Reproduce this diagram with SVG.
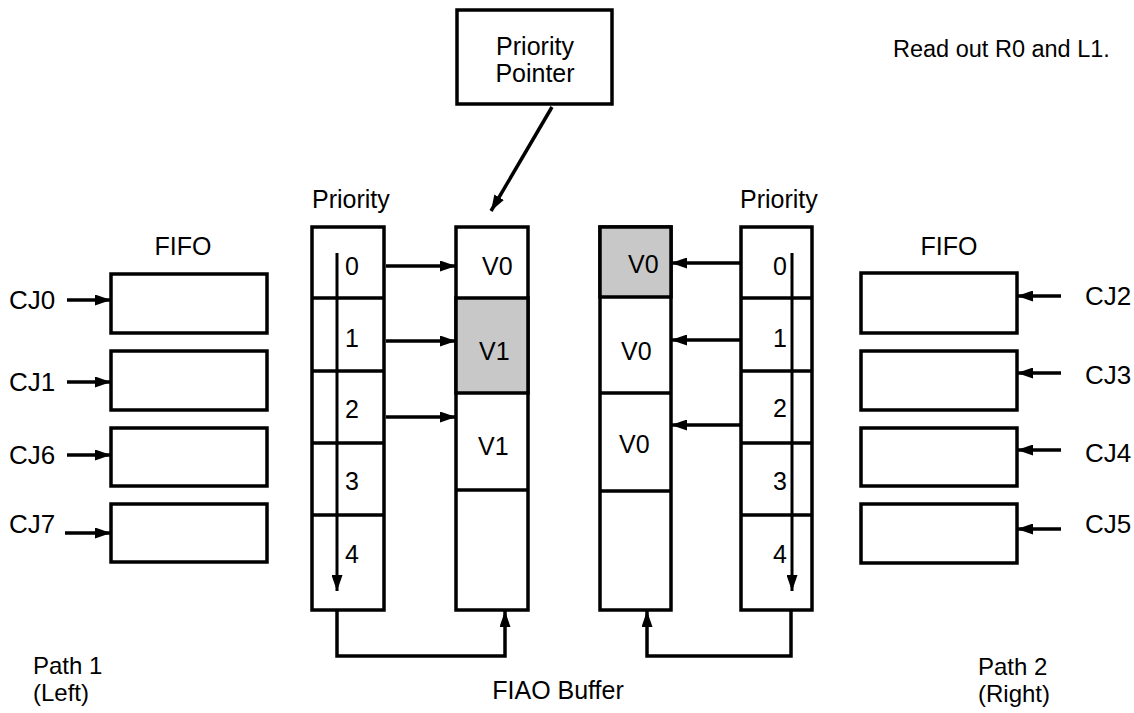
<svg xmlns="http://www.w3.org/2000/svg" width="1134" height="713" viewBox="0 0 1134 713">
<style>
text{font-family:"Liberation Sans",Arial,sans-serif;font-size:25px;fill:#000}
.cj{font-size:26px}
.pth{font-size:24px}
.box{fill:#fff;stroke:#000;stroke-width:3.5}
.sh{fill:#c8c8c8;stroke:#000;stroke-width:3.5}
.ln{fill:none;stroke:#000;stroke-width:3.5}
.th{fill:none;stroke:#000;stroke-width:3}
</style>
<defs>
<marker id="ah" viewBox="0 0 16 11" refX="16" refY="5.5" markerWidth="16" markerHeight="11" markerUnits="userSpaceOnUse" orient="auto">
<path d="M0,0 L16,5.5 L0,11 Z" fill="#000"/>
</marker>
</defs>
<rect width="1134" height="713" fill="#fff"/>

<g id="priority-pointer">
<rect class="box" x="457" y="10" width="155" height="94"/>
<text x="535" y="55" text-anchor="middle">Priority</text>
<text x="535" y="82" text-anchor="middle">Pointer</text>
</g>

<text x="893" y="57" style="font-size:23.5px">Read out R0 and L1.</text>

<g id="fifo-left">
<text x="183" y="255" text-anchor="middle">FIFO</text>
<rect class="box" x="111" y="274" width="156" height="59"/>
<rect class="box" x="111" y="351" width="156" height="59"/>
<rect class="box" x="111" y="428" width="156" height="58"/>
<rect class="box" x="111" y="504" width="156" height="58"/>
<text class="cj" x="9" y="309">CJ0</text>
<text class="cj" x="9" y="391">CJ1</text>
<text class="cj" x="9" y="464">CJ6</text>
<text class="cj" x="9" y="533">CJ7</text>
</g>

<g id="fifo-right">
<text x="949" y="255" text-anchor="middle">FIFO</text>
<rect class="box" x="861" y="273" width="156" height="60"/>
<rect class="box" x="861" y="351" width="156" height="59"/>
<rect class="box" x="861" y="428" width="156" height="58"/>
<rect class="box" x="861" y="504" width="156" height="59"/>
<text class="cj" x="1085" y="305">CJ2</text>
<text class="cj" x="1085" y="384">CJ3</text>
<text class="cj" x="1085" y="462">CJ4</text>
<text class="cj" x="1085" y="533">CJ5</text>
</g>

<g id="priority-left">
<text x="312" y="208">Priority</text>
<rect class="box" x="312" y="227" width="72" height="383"/>
<path class="ln" d="M312,298H384M312,371H384M312,443H384M312,515H384"/>
<text x="345" y="275">0</text>
<text x="345" y="347">1</text>
<text x="345" y="418">2</text>
<text x="345" y="490">3</text>
<text x="345" y="563">4</text>
</g>

<g id="buffer-left">
<rect class="box" x="456" y="227" width="72" height="383"/>
<rect class="sh" x="456" y="298" width="72" height="95"/>
<path class="ln" d="M456,490H528"/>
<text x="482" y="275">V0</text>
<text x="479" y="360">V1</text>
<text x="478" y="455">V1</text>
</g>

<g id="buffer-right">
<rect class="box" x="600" y="227" width="71" height="383"/>
<rect class="sh" x="600" y="227" width="71" height="70"/>
<path class="ln" d="M600,393H671M600,491H671"/>
<text x="628" y="273">V0</text>
<text x="621" y="360">V0</text>
<text x="619" y="453">V0</text>
</g>

<g id="priority-right">
<text x="740" y="208">Priority</text>
<rect class="box" x="741" y="227" width="71" height="383"/>
<path class="ln" d="M741,298H812M741,371H812M741,443H812M741,515H812"/>
<text x="773" y="275">0</text>
<text x="773" y="347">1</text>
<text x="773" y="417">2</text>
<text x="773" y="490">3</text>
<text x="773" y="563">4</text>
</g>

<g id="connectors">
<line class="ln" x1="552" y1="107" x2="491" y2="211" marker-end="url(#ah)"/>
<line class="ln" x1="67" y1="300" x2="111" y2="300" marker-end="url(#ah)"/>
<line class="ln" x1="67" y1="382" x2="111" y2="382" marker-end="url(#ah)"/>
<line class="ln" x1="67" y1="455" x2="111" y2="455" marker-end="url(#ah)"/>
<line class="ln" x1="65" y1="533" x2="111" y2="533" marker-end="url(#ah)"/>
<line class="ln" x1="1061" y1="296" x2="1017" y2="296" marker-end="url(#ah)"/>
<line class="ln" x1="1061" y1="373" x2="1017" y2="373" marker-end="url(#ah)"/>
<line class="ln" x1="1061" y1="450" x2="1017" y2="450" marker-end="url(#ah)"/>
<line class="ln" x1="1061" y1="529" x2="1017" y2="529" marker-end="url(#ah)"/>
<line class="ln" x1="386" y1="266" x2="456" y2="266" marker-end="url(#ah)"/>
<line class="ln" x1="386" y1="341" x2="456" y2="341" marker-end="url(#ah)"/>
<line class="ln" x1="386" y1="417" x2="456" y2="417" marker-end="url(#ah)"/>
<line class="ln" x1="741" y1="263" x2="671" y2="263" marker-end="url(#ah)"/>
<line class="ln" x1="741" y1="340" x2="671" y2="340" marker-end="url(#ah)"/>
<line class="ln" x1="741" y1="425" x2="671" y2="425" marker-end="url(#ah)"/>
<line class="th" x1="337" y1="253" x2="337" y2="591" marker-end="url(#ah)"/>
<line class="th" x1="792" y1="253" x2="792" y2="591" marker-end="url(#ah)"/>
<path class="ln" d="M337,610V656H505V611" marker-end="url(#ah)"/>
<path class="ln" d="M791,610V656H647V611" marker-end="url(#ah)"/>
</g>

<text x="558" y="699" text-anchor="middle">FIAO Buffer</text>
<text class="pth" x="33" y="674">Path 1</text>
<text class="pth" x="33" y="701">(Left)</text>
<text class="pth" x="978" y="675">Path 2</text>
<text class="pth" x="978" y="702">(Right)</text>
</svg>
